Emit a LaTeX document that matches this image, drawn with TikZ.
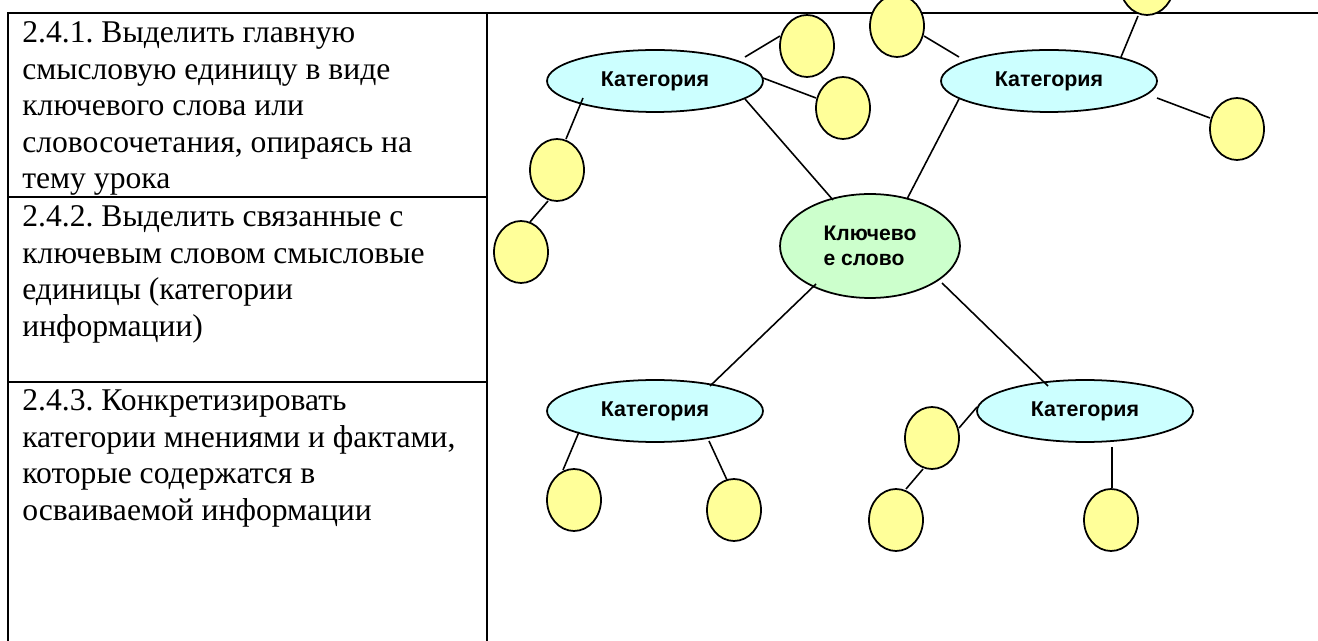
\documentclass[tikz,border=0pt]{standalone}
\usepackage{fontspec}
\setmainfont{Liberation Serif}
\setsansfont{Liberation Sans}
\usetikzlibrary{shapes.geometric,calc}
\definecolor{circfill}{HTML}{FFFF99}
\definecolor{catfill}{HTML}{CCFFFF}
\definecolor{keyfill}{HTML}{CCFFCC}
\begin{document}
\frenchspacing
\begin{tikzpicture}[x=0.02cm,y=-0.02cm,
  tabline/.style={line width=1.1pt},
  celltext/.style={anchor=base west, inner sep=0pt, font=\fontsize{18}{20.7}\selectfont},
  circ/.style={ellipse, draw, line width=1pt, fill=circfill, minimum width=1.08cm, minimum height=1.24cm, inner sep=0pt, outer sep=0pt},
  cat/.style={ellipse, draw, line width=1pt, fill=catfill, minimum width=4.32cm, minimum height=1.24cm, inner sep=1pt, outer sep=0pt, font=\sffamily\bfseries\fontsize{12.2}{14.2}\selectfont},
  keynode/.style={ellipse, draw, line width=1pt, fill=keyfill, minimum width=3.6cm, minimum height=2.08cm, inner sep=1pt, outer sep=0pt, align=left, font=\sffamily\bfseries\fontsize{12}{14.2}\selectfont},
  link/.style={line width=0.9pt}]
\useasboundingbox (0,0) rectangle (1318,641);
\clip (0,0) rectangle (1318,641);
% table
\draw[tabline] (8,641) -- (8,13) -- (1318,13);
\draw[tabline] (487,13) -- (487,641);
\draw[tabline] (8,197) -- (487,197);
\draw[tabline] (8,382) -- (487,382);
\node[celltext] (c1) at (22,43) {\parbox[t]{10cm}{2.4.1. Выделить главную\\смысловую единицу в виде\\ключевого слова или\\словосочетания, опираясь на\\тему урока}};
\node[celltext] (c2) at (22,227) {\parbox[t]{10cm}{2.4.2. Выделить связанные с\\ключевым словом смысловые\\единицы (категории\\информации)}};
\node[celltext] (c3) at (22,411) {\parbox[t]{10cm}{2.4.3. Конкретизировать\\категории мнениями и фактами,\\которые содержатся в\\осваиваемой информации}};
% nodes
\node[keynode] (key) at (870,246) {Ключево\\е слово};
\node[cat] (cat1) at (655,81) {Категория};
\node[cat] (cat2) at (1049,81) {Категория};
\node[cat] (cat3) at (655,411) {Категория};
\node[cat] (cat4) at (1085,411) {Категория};
\node[circ] (a) at (807,46) {};
\node[circ] (b) at (843,108) {};
\node[circ] (c) at (557,170) {};
\node[circ] (d) at (521,252) {};
\node[circ] (e) at (897,26) {};
\node[circ] (t) at (1147,-16) {};
\node[circ] (f) at (1237,129) {};
\node[circ] (g) at (574,500) {};
\node[circ] (h) at (734,510) {};
\node[circ] (i) at (932,438) {};
\node[circ] (j) at (896,520) {};
\node[circ] (k) at (1111,520) {};
% links
\draw[link] ($(cat1)+(90,18)$) -- ($(key)+(-37,-46)$);
\draw[link] ($(cat2)+(-90,18)$) -- ($(key)+(37,-47)$);
\draw[link] ($(key)+(-54,38)$) -- ($(cat3)+(55,-25)$);
\draw[link] ($(key)+(72,37)$) -- ($(cat4)+(-37,-25)$);
\draw[link] ($(cat1)+(90,-24)$) -- ($(a)+(-27,-10)$);
\draw[link] ($(cat1)+(108,-3)$) -- ($(b)+(-27,-10)$);
\draw[link] ($(cat1)+(-72,17)$) -- ($(c)+(9,-31)$);
\draw[link] ($(c)+(-9,31)$) -- ($(d)+(9,-30)$);
\draw[link] ($(e)+(27,10)$) -- ($(cat2)+(-90,-24)$);
\draw[link] ($(cat2)+(72,-24)$) -- ($(t)+(-9,32)$);
\draw[link] ($(cat2)+(108,17)$) -- ($(f)+(-27,-11)$);
\draw[link] ($(cat3)+(-76,21)$) -- ($(g)+(-11,-30)$);
\draw[link] ($(cat3)+(54,30)$) -- ($(h)+(-7,-30)$);
\draw[link] ($(cat4)+(-108,-4)$) -- ($(i)+(27,-10)$);
\draw[link] ($(i)+(-9,31)$) -- ($(j)+(10,-31)$);
\draw[link] ($(cat4)+(27,36)$) -- ($(k)+(1,-32)$);
\end{tikzpicture}
\end{document}
